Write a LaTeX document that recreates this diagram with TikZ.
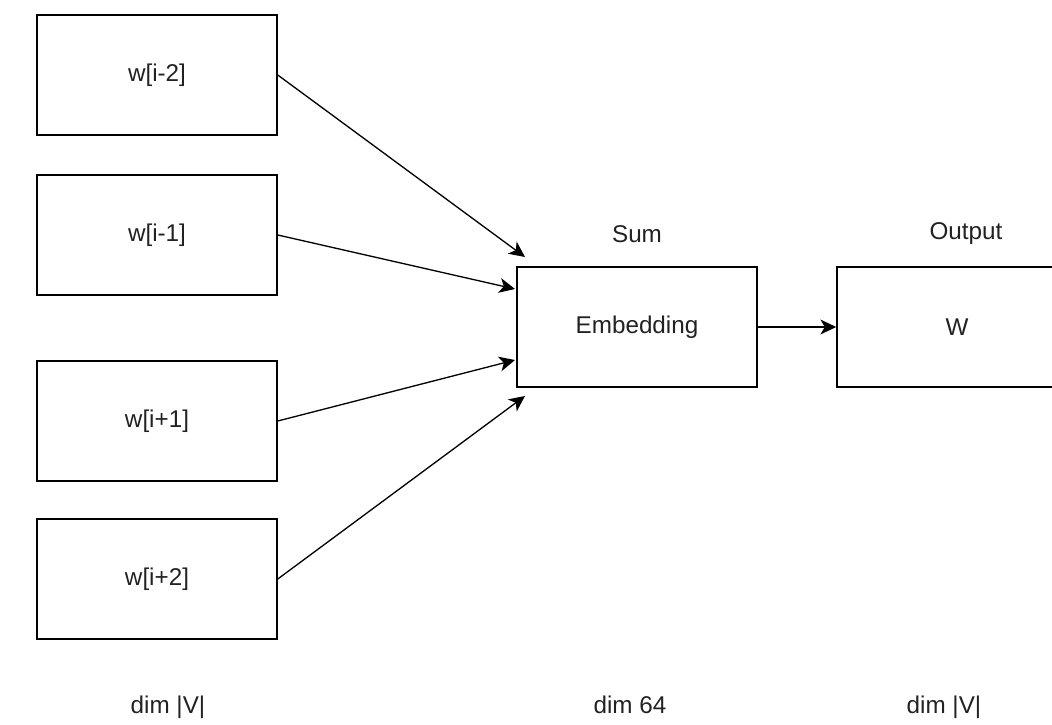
\documentclass[tikz,border=0pt]{standalone}
\usepackage{fontspec}
\setmainfont{Liberation Sans}
\usetikzlibrary{arrows.meta}
\definecolor{cbowtext}{RGB}{34, 34, 34}

\begin{document}
\begin{tikzpicture}[x=0.02cm, y=-0.02cm,
  font=\fontsize{13.8}{16}\selectfont, text=cbowtext,
  wordbox/.style={draw=black, line width=0.9pt, minimum width=4.8cm, minimum height=2.4cm, inner sep=0pt},
  caption/.style={inner sep=0pt},
  feed/.style={-{Stealth[length=9pt, width=8.5pt, inset=2.5pt]}, line width=0.75pt}]
\useasboundingbox (0,0) rectangle (1052,724);
\clip (0,0) rectangle (1052,724);

% context words
\node[wordbox] (wm2) at (157,75) {w[i-2]};
\node[wordbox] (wm1) at (157,235) {w[i-1]};
\node[wordbox] (wp1) at (157,421) {w[i+1]};
\node[wordbox] (wp2) at (157,579) {w[i+2]};

% hidden and output layers
\node[wordbox] (emb) at (637,327) {Embedding};
\node[wordbox] (out) at (957,327) {W};
\node[caption] (sumlbl) at (637,234) {Sum};
\node[caption] (outlbl) at (966,234) {Output};

% dimensions
\node[caption, anchor=base] (dimin) at (168,713) {dim |V|};
\node[caption, anchor=base] (dimhid) at (630,713) {dim 64};
\node[caption, anchor=base] (dimout) at (944,713) {dim |V|};

% where the inputs land
\coordinate (in1) at (525,257);
\coordinate (in2) at (515,289);
\coordinate (in3) at (515,360);
\coordinate (in4) at (525,396);

\draw[feed] (wm2.east) -- (in1);
\draw[feed] (wm1.east) -- (in2);
\draw[feed] (wp1.east) -- (in3);
\draw[feed] (wp2.east) -- (in4);
\draw[feed] (emb.east) -- (out.west);
\end{tikzpicture}
\end{document}
